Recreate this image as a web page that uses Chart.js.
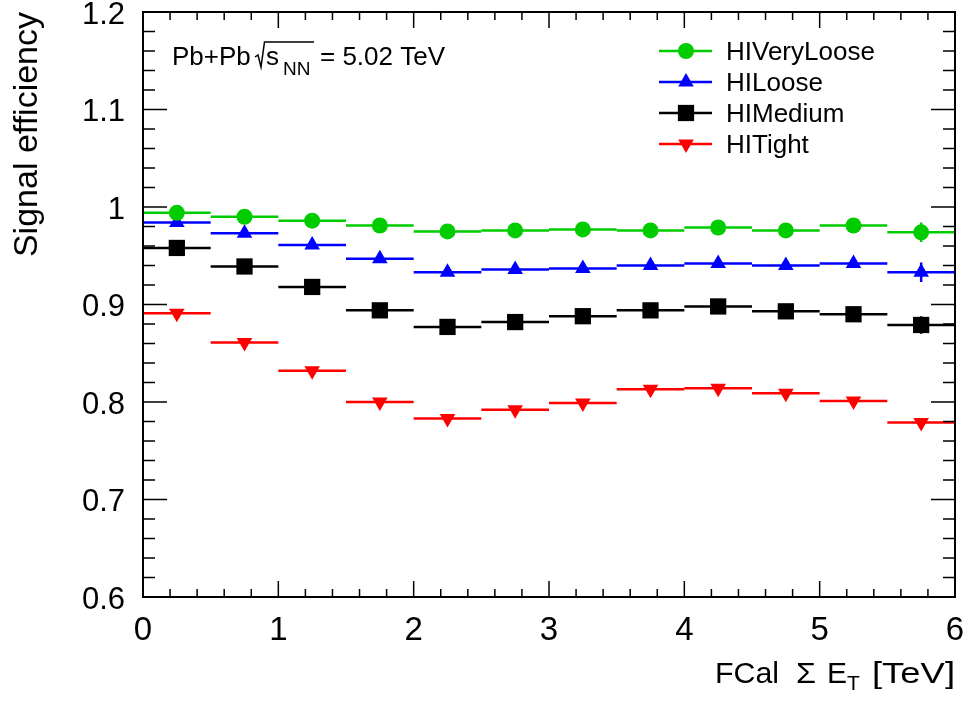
<!DOCTYPE html>
<html>
<head>
<meta charset="utf-8">
<script src="https://cdn.jsdelivr.net/npm/chart.js@4.4.0/dist/chart.umd.min.js"></script>
<style>
  html, body { margin: 0; padding: 0; background: #fff; }
</style>
</head>
<body>
<canvas id="eff" width="968" height="702"></canvas>
<script>
// FCal Sum E_T binning [TeV]
const binEdges = [0, 0.5, 1, 1.5, 2, 2.5, 3, 3.5, 4, 4.5, 5, 5.5, 6];
const binCenters = [0.25, 0.75, 1.25, 1.75, 2.25, 2.75, 3.25, 3.75, 4.25, 4.75, 5.25, 5.75];

// signal efficiency per working point
const effVeryLoose = [0.994, 0.990, 0.986, 0.981, 0.975, 0.976, 0.977, 0.976, 0.979, 0.976, 0.981, 0.974];
const errVeryLoose = [0.002, 0.002, 0.002, 0.002, 0.002, 0.002, 0.002, 0.002, 0.003, 0.003, 0.003, 0.010];
const effLoose = [0.984, 0.973, 0.961, 0.947, 0.933, 0.936, 0.937, 0.940, 0.942, 0.940, 0.942, 0.933];
const errLoose = [0.002, 0.002, 0.002, 0.002, 0.002, 0.002, 0.002, 0.003, 0.003, 0.003, 0.003, 0.010];
const effMedium = [0.958, 0.939, 0.918, 0.894, 0.877, 0.882, 0.888, 0.894, 0.898, 0.893, 0.890, 0.879];
const errMedium = [0.002, 0.002, 0.002, 0.002, 0.002, 0.002, 0.003, 0.003, 0.003, 0.003, 0.004, 0.009];
const effTight = [0.891, 0.861, 0.832, 0.800, 0.783, 0.792, 0.799, 0.813, 0.814, 0.809, 0.801, 0.779];
const errTight = [0.002, 0.002, 0.002, 0.002, 0.002, 0.002, 0.002, 0.003, 0.003, 0.003, 0.003, 0.004];

// axis ticks
const xTicks = [0, 1, 2, 3, 4, 5, 6];
const xTickLabels = ['0', '1', '2', '3', '4', '5', '6'];
const yTicks = [0.6, 0.7, 0.8, 0.9, 1.0, 1.1, 1.2];
const yTickLabels = ['0.6', '0.7', '0.8', '0.9', '1', '1.1', '1.2'];

const FONT = '"Liberation Sans", Arial, Helvetica, sans-serif';

const series = [
    { label: 'HIVeryLoose', eff: effVeryLoose, err: errVeryLoose, color: '#00cc00', style: 'circle', radius: 8, rotation: 0 },
    { label: 'HILoose', eff: effLoose, err: errLoose, color: '#0000ff', style: 'triangle', radius: 9, rotation: 0 },
    { label: 'HIMedium', eff: effMedium, err: errMedium, color: '#000000', style: 'rect', radius: 11.5, rotation: 0 },
    { label: 'HITight', eff: effTight, err: errTight, color: '#ff0000', style: 'triangle', radius: 9, rotation: 180 }
];

// marker shapes, same geometry as Chart.js point styles
function drawMarker(ctx, s, cx, cy) {
    const r = s.radius;
    ctx.fillStyle = s.color;
    ctx.beginPath();
    if (s.style === 'circle') {
        ctx.arc(cx, cy, r, 0, Math.PI * 2);
    } else if (s.style === 'rect') {
        const h = r * Math.SQRT1_2;
        ctx.rect(cx - h, cy - h, 2 * h, 2 * h);
    } else {
        const dir = s.rotation === 180 ? -1 : 1;
        ctx.moveTo(cx, cy - dir * r);
        ctx.lineTo(cx + r * Math.sin(Math.PI * 2 / 3), cy + dir * r * 0.5);
        ctx.lineTo(cx - r * Math.sin(Math.PI * 2 / 3), cy + dir * r * 0.5);
        ctx.closePath();
    }
    ctx.fill();
}

// text squeezed or stretched to a given width
function fitText(ctx, txt, left, base, width) {
    const w = ctx.measureText(txt).width;
    ctx.save();
    ctx.translate(left, base);
    ctx.scale(width / w, 1);
    ctx.fillText(txt, 0, 0);
    ctx.restore();
}

const binLines = {
    id: 'binLines',
    beforeDatasetsDraw(chart) {
        const { ctx, scales: { x, y } } = chart;
        ctx.save();
        ctx.lineWidth = 2.5;
        series.forEach(s => {
            ctx.strokeStyle = s.color;
            s.eff.forEach((v, i) => {
                const py = y.getPixelForValue(v);
                const px = x.getPixelForValue(binCenters[i]);
                ctx.beginPath();
                ctx.moveTo(x.getPixelForValue(binEdges[i]), py);
                ctx.lineTo(x.getPixelForValue(binEdges[i + 1]), py);
                ctx.moveTo(px, y.getPixelForValue(v + s.err[i]));
                ctx.lineTo(px, y.getPixelForValue(v - s.err[i]));
                ctx.stroke();
            });
        });
        ctx.restore();
    }
};

const frameAndText = {
    id: 'frameAndText',
    afterDatasetsDraw(chart) {
        const { ctx, chartArea: a, scales: { x, y } } = chart;
        ctx.save();

        // frame
        ctx.strokeStyle = '#000';
        ctx.lineWidth = 2;
        ctx.strokeRect(a.left, a.top, a.right - a.left, a.bottom - a.top);

        // ticks drawn inward on all four sides
        ctx.lineWidth = 1.5;
        ctx.beginPath();
        for (let k = 0; k <= 30; k++) {
            const v = k * 0.2;
            const px = x.getPixelForValue(v);
            const len = k % 5 === 0 ? 16 : 8;
            ctx.moveTo(px, a.bottom); ctx.lineTo(px, a.bottom - len);
            ctx.moveTo(px, a.top); ctx.lineTo(px, a.top + len);
        }
        for (let k = 0; k <= 30; k++) {
            const v = 0.6 + k * 0.02;
            const py = y.getPixelForValue(v);
            const len = k % 5 === 0 ? 24 : 12;
            ctx.moveTo(a.left, py); ctx.lineTo(a.left + len, py);
            ctx.moveTo(a.right, py); ctx.lineTo(a.right - len, py);
        }
        ctx.stroke();

        ctx.fillStyle = '#000';
        ctx.textBaseline = 'alphabetic';
        ctx.textAlign = 'left';

        // y axis title
        ctx.save();
        ctx.translate(37, a.top);
        ctx.rotate(-Math.PI / 2);
        ctx.textAlign = 'right';
        ctx.font = '34px ' + FONT;
        ctx.fillText('Signal efficiency', 0, 0);
        ctx.restore();

        // x axis title, FCal Sigma E_T [TeV]
        ctx.font = '30px ' + FONT;
        fitText(ctx, 'FCal', 715, 683, 64);
        fitText(ctx, '\u03A3', 796, 683, 20);
        fitText(ctx, 'E', 827, 683, 20);
        fitText(ctx, '[TeV]', 872, 683, 83);
        ctx.font = '21px ' + FONT;
        ctx.fillText('T', 847, 690);

        // collision system label
        ctx.font = '26px ' + FONT;
        ctx.fillText('Pb+Pb', 172, 65);
        ctx.lineWidth = 1.5;
        ctx.beginPath();
        ctx.moveTo(255, 57);
        ctx.lineTo(258, 55);
        ctx.lineTo(261, 67);
        ctx.lineTo(264.5, 42);
        ctx.lineTo(314, 42);
        ctx.stroke();
        ctx.fillText('s', 266, 65);
        ctx.font = '19px ' + FONT;
        ctx.fillText('NN', 283, 75);
        ctx.font = '26px ' + FONT;
        ctx.fillText('= 5.02 TeV', 320, 65);

        // legend
        const rows = [51, 82, 113, 144];
        series.forEach((s, i) => {
            const ly = rows[i];
            ctx.strokeStyle = s.color;
            ctx.lineWidth = 2.5;
            ctx.beginPath();
            ctx.moveTo(659, ly);
            ctx.lineTo(712, ly);
            ctx.stroke();
            drawMarker(ctx, s, 686, ly);
            ctx.fillStyle = '#000';
            ctx.font = '26px ' + FONT;
            ctx.fillText(s.label, 726, ly + 9);
        });

        ctx.restore();
    }
};

new Chart(document.getElementById('eff'), {
    type: 'scatter',
    data: {
        datasets: series.map(s => ({
            label: s.label,
            data: binCenters.map((bx, i) => ({ x: bx, y: s.eff[i] })),
            pointStyle: s.style,
            rotation: s.rotation,
            pointRadius: s.radius,
            pointHoverRadius: s.radius,
            backgroundColor: s.color,
            borderColor: s.color,
            borderWidth: 0,
            showLine: false
        }))
    },
    options: {
        responsive: false,
        devicePixelRatio: 1,
        animation: false,
        layout: { padding: { left: 0, top: 12, right: 13, bottom: 0 } },
        plugins: {
            legend: { display: false },
            tooltip: { enabled: false }
        },
        scales: {
            x: {
                type: 'linear',
                min: 0,
                max: 6,
                afterBuildTicks: axis => { axis.ticks = xTicks.map(v => ({ value: v })); },
                afterFit: axis => { axis.height = 105; axis.paddingLeft = 0; axis.paddingRight = 0; },
                ticks: {
                    autoSkip: false,
                    maxRotation: 0,
                    padding: 6,
                    color: '#000',
                    font: { family: FONT, size: 33 },
                    callback: (v, i) => xTickLabels[i]
                },
                grid: { display: false },
                border: { display: false }
            },
            y: {
                type: 'linear',
                min: 0.6,
                max: 1.2,
                afterBuildTicks: axis => { axis.ticks = yTicks.map(v => ({ value: v })); },
                afterFit: axis => { axis.width = 143; axis.paddingTop = 0; axis.paddingBottom = 0; },
                ticks: {
                    autoSkip: false,
                    padding: 10,
                    labelOffset: 3,
                    color: '#000',
                    font: { family: FONT, size: 31 },
                    callback: (v, i) => yTickLabels[i]
                },
                grid: { display: false },
                border: { display: false }
            }
        }
    },
    plugins: [binLines, frameAndText]
});
</script>
</body>
</html>
